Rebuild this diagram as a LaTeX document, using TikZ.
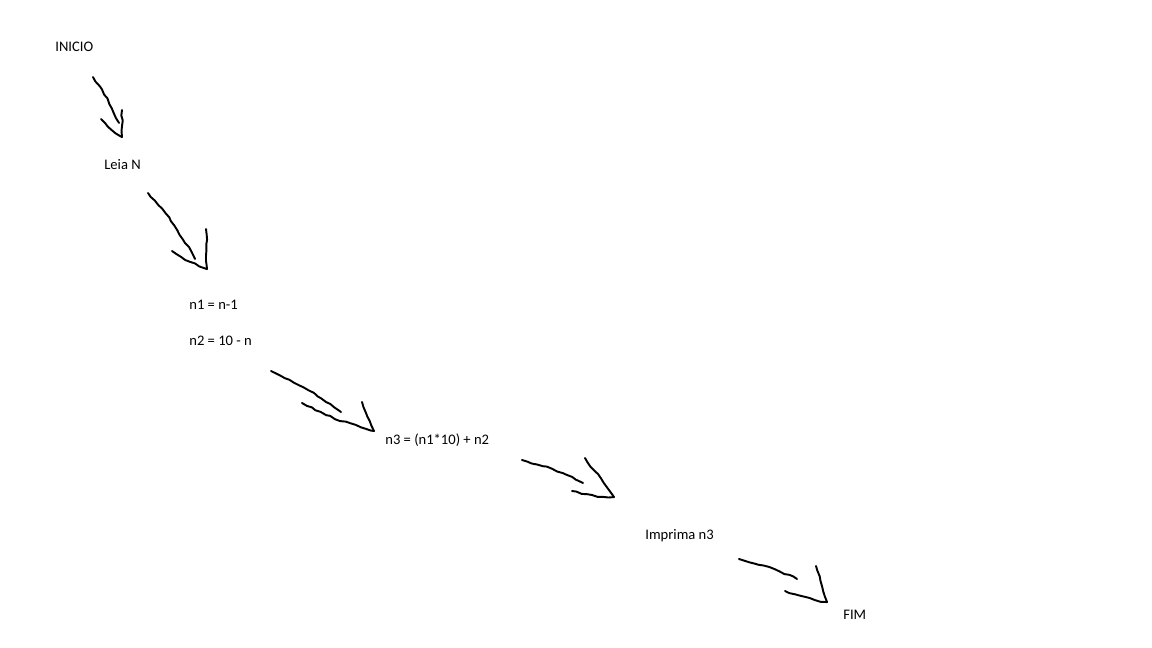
\documentclass[tikz,border=0pt]{standalone}
\usepackage{fontspec}
\setmainfont{Carlito}
\usetikzlibrary{decorations.pathmorphing}

\begin{document}
\begin{tikzpicture}[x=0.02cm,y=-0.02cm]
% Styles
 \tikzstyle{texto}=[anchor=base west,inner sep=0pt,font=\fontsize{8.3}{10}\selectfont]
 \tikzstyle{traco}=[line width=1.1pt,line cap=round,line join=round,
      decorate,decoration={random steps,segment length=3,amplitude=0.5}]
 \useasboundingbox[fill=white] (0,0) rectangle (1152,648);
% Passos
 \node[texto] (inicio) at (55,52) {INICIO};
 \node[texto] (leia) at (104,170) {Leia N};
 \node[texto] (n1) at (189,310) {n1 = n-1};
 \node[texto] (n2) at (189,345) {n2 = 10 - n};
 \node[texto] (n3) at (385,444) {n3 = (n1*10) + n2};
 \node[texto] (imprima) at (645,539) {Imprima n3};
 \node[texto] (fim) at (843,619) {FIM};
% Pontos das setas
 \coordinate (s1a) at (93,77);   \coordinate (s1b) at (119,123);
 \coordinate (s1l) at (101,119); \coordinate (s1t) at (122,137); \coordinate (s1r) at (122,110);
 \coordinate (s2a) at (148,193); \coordinate (s2b) at (195,259);
 \coordinate (s2l) at (172,251); \coordinate (s2t) at (207,269); \coordinate (s2r) at (206,229);
 \coordinate (s3a) at (271,371); \coordinate (s3b) at (341,412);
 \coordinate (s3l) at (302,403); \coordinate (s3t) at (374,431); \coordinate (s3r) at (362,402);
 \coordinate (s4a) at (522,460); \coordinate (s4b) at (583,483);
 \coordinate (s4l) at (572,491); \coordinate (s4t) at (614,497); \coordinate (s4r) at (585,458);
 \coordinate (s5a) at (739,559); \coordinate (s5b) at (797,579);
 \coordinate (s5l) at (785,591); \coordinate (s5t) at (827,602); \coordinate (s5r) at (816,566);
% Setas
 \foreach \s in {s1,s2,s3,s4,s5}{
   \draw[traco] (\s a) to[bend left=6] (\s b);
   \draw[traco] (\s l) to[bend right=6] (\s t);
   \draw[traco] (\s r) -- (\s t);
 }
\end{tikzpicture}
\end{document}
